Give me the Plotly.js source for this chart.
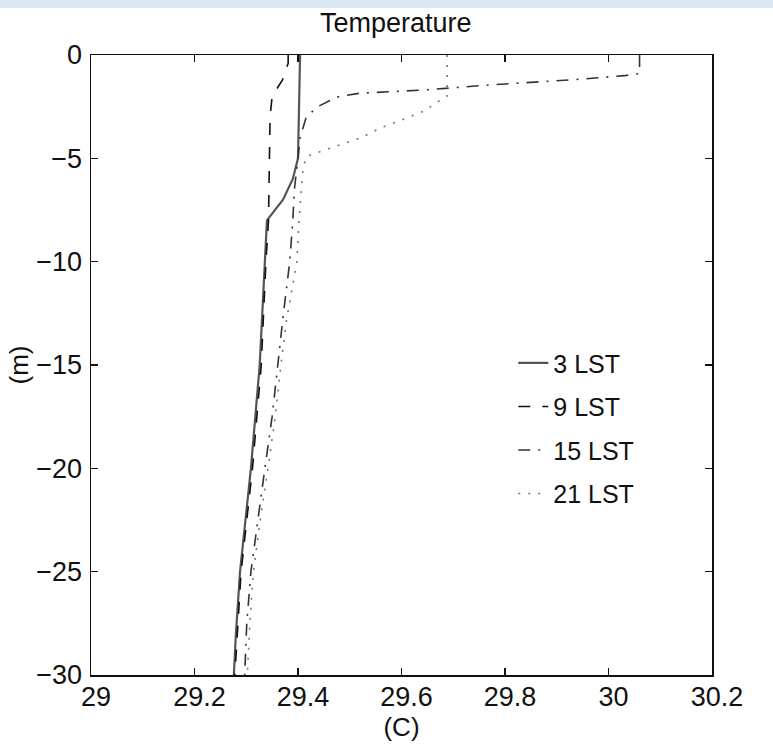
<!DOCTYPE html>
<html>
<head>
<meta charset="utf-8">
<script src="https://cdn.plot.ly/plotly-3.0.1.min.js"></script>
<style>html,body{margin:0;padding:0;background:#fff;}#chart{width:773px;height:746px;}</style>
</head>
<body>
<div id="chart"></div>
<script>
// Depths (m) and temperatures (C)
const depth3 = [0, -5, -6, -7, -8, -10, -13, -15, -20, -22, -25, -28, -30];
const temp3  = [29.404, 29.400, 29.390, 29.371, 29.340, 29.336, 29.329, 29.326, 29.309, 29.301, 29.288, 29.280, 29.276];

const depth9 = [0, -0.4, -1.2, -2.0, -3, -5, -8, -10, -15, -20, -25, -30];
const temp9  = [29.381, 29.381, 29.370, 29.350, 29.346, 29.345, 29.343, 29.338, 29.329, 29.312, 29.290, 29.278];

const depth15 = [0, -0.9, -1.0, -1.2, -1.45, -1.7, -1.85, -2.0, -2.2, -2.5, -3, -4, -5, -6.5, -8, -10, -12.7, -15, -17.5, -20, -22.5, -25, -27.5, -30];
const temp15  = [30.06, 30.06, 30.03, 29.93, 29.77, 29.64, 29.52, 29.48, 29.462, 29.438, 29.416, 29.404, 29.400, 29.393, 29.390, 29.384, 29.371, 29.361, 29.350, 29.336, 29.322, 29.309, 29.301, 29.297];

const depth21 = [0, -2.0, -2.3, -2.7, -3.1, -3.5, -4.0, -4.3, -4.6, -4.9, -5.4, -6.5, -8, -10, -12.8, -15, -17.5, -20, -22.5, -25, -27.5, -30];
const temp21  = [29.688, 29.688, 29.668, 29.645, 29.605, 29.562, 29.522, 29.487, 29.452, 29.417, 29.410, 29.407, 29.402, 29.398, 29.378, 29.367, 29.356, 29.342, 29.327, 29.314, 29.307, 29.302];

const seriesNames = ["3 LST", "9 LST", "15 LST", "21 LST"];

const FONT = "Liberation Sans, Arial, Helvetica, sans-serif";

const traces = [
  {x: temp3, y: depth3, name: seriesNames[0], legendgroup: "a", mode: "lines",
   line: {color: "#555555", width: 2.2, dash: "solid"}},
  {x: temp9, y: depth9, name: seriesNames[1], legendgroup: "b", mode: "lines",
   line: {color: "#111111", width: 1.6, dash: "12px,12px"}},
  {x: temp15, y: depth15, name: seriesNames[2], legendgroup: "c", mode: "lines",
   line: {color: "#333333", width: 1.6, dash: "12px,8px,2px,8px"}},
  {x: temp21, y: depth21, name: seriesNames[3], legendgroup: "d", mode: "lines",
   line: {color: "#777777", width: 1.6, dash: "2px,8px"}}
];

const layout = {
  width: 773, height: 746,
  margin: {l: 91, r: 61, t: 55, b: 71, pad: 0},
  paper_bgcolor: "#ffffff", plot_bgcolor: "#ffffff",
  font: {family: FONT, size: 26, color: "#111111"},
  title: {text: "Temperature", font: {family: FONT, size: 27, color: "#111"}, x: 0.512, xanchor: "center", y: 0.97, yanchor: "middle"},
  showlegend: true,
  legend: {x: 0.68, xanchor: "left", y: 0.54, yanchor: "top", bgcolor: "rgba(0,0,0,0)",
           font: {family: FONT, size: 25, color: "#111"}, tracegroupgap: 8, itemwidth: 30},
  xaxis: {range: [29, 30.2], dtick: 0.2, tick0: 29, ticks: "inside", ticklen: 7, tickwidth: 1.2, tickcolor: "#111",
          showline: true, linecolor: "#111", linewidth: 1.5, mirror: "ticks", showgrid: false, zeroline: false,
          tickfont: {family: FONT, size: 27, color: "#111"}, ticklabelstandoff: -3, ticklabelshift: 5,
          title: {text: "(C)", font: {family: FONT, size: 26, color: "#111"}, standoff: 0}},
  yaxis: {range: [-30, 0], dtick: 5, ticks: "inside", ticklen: 7, tickwidth: 1.2, tickcolor: "#111",
          showline: true, linecolor: "#111", linewidth: 1.5, mirror: "ticks", showgrid: false, zeroline: false,
          tickfont: {family: FONT, size: 27, color: "#111"}, ticklabelstandoff: 2,
          title: {text: "(m)", font: {family: FONT, size: 26, color: "#111"}, standoff: 0}},
  shapes: [
    {type: "rect", xref: "paper", yref: "paper", x0: -0.2, x1: 1.2, y0: 1.0758, y1: 1.1, line: {width: 0}, fillcolor: "#dce8f6", layer: "below"}
  ]
};

Plotly.newPlot("chart", traces, layout, {displayModeBar: false, staticPlot: true});
</script>
</body>
</html>
